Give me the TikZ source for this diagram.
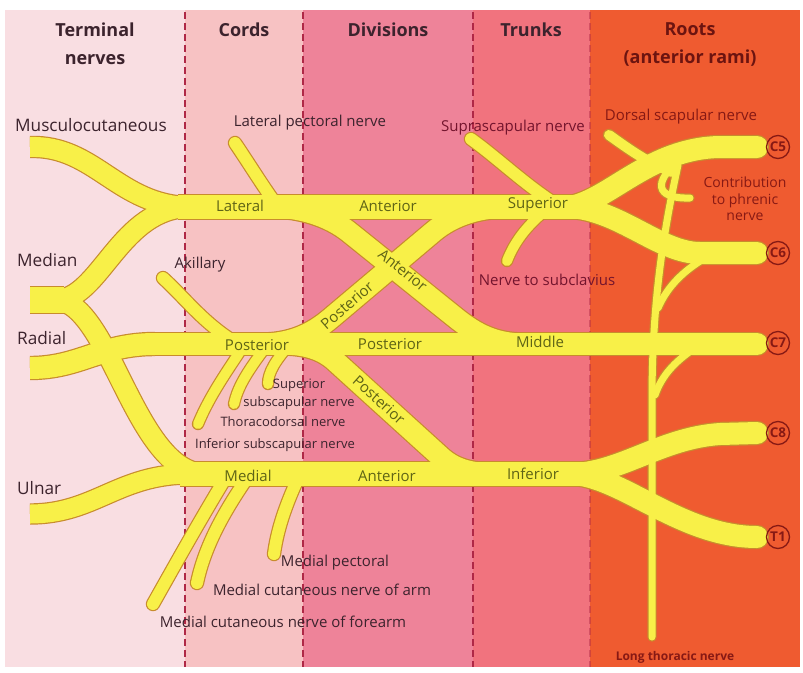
\documentclass[tikz,border=0pt]{standalone}
\usepackage{fontspec}
\setmainfont{Open Sans}
\definecolor{bgT}{RGB}{249,222,226}
\definecolor{bgC}{RGB}{247,194,195}
\definecolor{bgD}{RGB}{238,131,153}
\definecolor{bgK}{RGB}{241,115,126}
\definecolor{bgR}{RGB}{239,91,48}
\definecolor{nerve}{RGB}{248,240,72}
\definecolor{nedge}{RGB}{200,140,45}
\definecolor{olive}{RGB}{95,100,22}
\definecolor{dark}{RGB}{60,35,45}
\definecolor{maroon}{RGB}{115,20,45}
\definecolor{rootred}{RGB}{135,25,20}
\definecolor{dashc}{RGB}{175,40,70}
\def\ex{0pt}
\newcommand\nervepaths{%
  % lateral cord / anterior division / superior trunk
  \draw[nA] (178,207) -- (585,207);
  % musculocutaneous
  \draw[nT] (30,147) .. controls (95,145) and (118,206) .. (190,207);
  % median
  \draw[nM] (30,300) -- (64,300);
  \draw[nT] (56,300) .. controls (100,300) and (120,207) .. (190,207);
  \draw[nT] (56,300) .. controls (110,302) and (135,473) .. (205,474);
  % radial
  \draw[nB] (30,368) .. controls (80,368) and (100,344) .. (155,344);
  % posterior band
  \draw[nB] (150,344) -- (590,344);
  % ulnar
  \draw[nU] (30,514) .. controls (95,514) and (118,474) .. (190,474);
  % medial band
  \draw[nA] (180,474) -- (585,474);
  % anterior division of middle trunk
  \draw[nD] (270,207) .. controls (300,207) and (329,216) .. (349,232) -- (456,318) .. controls (476,334) and (495,344) .. (525,344);
  % posterior division of superior trunk
  \draw[nD] (510,207) .. controls (480,207) and (453,215) .. (433,232) -- (331,318) .. controls (311,335) and (290,344) .. (260,344);
  % posterior division of inferior trunk
  \draw[nD] (280,344) .. controls (300,344) and (319,347) .. (334,360) -- (442,458) .. controls (457,471) and (475,474) .. (500,474);
  % roots
  \draw[nR] (570,207) .. controls (610,200) and (650,148) .. (720,147) -- (757,147);
  \draw[nR] (570,207) .. controls (620,210) and (660,253) .. (700,253) -- (757,253);
  \draw[nR] (585,344) -- (757,344);
  \draw[nR] (570,474) .. controls (620,474) and (660,438) .. (720,434) -- (757,433);
  \draw[nR] (570,474) .. controls (620,474) and (680,537) .. (757,537);
  % lateral pectoral
  \draw[nS] (235,143) .. controls (248,162) and (262,185) .. (278,207);
  % axillary
  \draw[nS] (163,278) .. controls (185,298) and (205,325) .. (238,344);
  % subscapular / thoracodorsal
  \draw[nX] (245,344) .. controls (228,370) and (210,395) .. (198,424);
  \draw[nX] (268,344) .. controls (250,368) and (238,385) .. (234,404);
  \draw[nX] (290,344) .. controls (276,360) and (268,372) .. (268,384);
  % medial cord branches
  \draw[nS] (228,474) .. controls (200,520) and (175,565) .. (153,604);
  \draw[nS] (250,474) .. controls (225,510) and (205,545) .. (197,583);
  \draw[nS] (300,474) .. controls (288,500) and (278,525) .. (274,554);
  % suprascapular
  \draw[nS] (471,139) .. controls (500,160) and (525,185) .. (560,207);
  % nerve to subclavius
  \draw[nX] (507,261) .. controls (515,240) and (530,222) .. (550,207);
  % dorsal scapular
  \draw[nX] (609,135) .. controls (630,150) and (648,163) .. (672,172);
  % contribution to phrenic
  \draw[nL] (674,165) .. controls (652,186) and (660,199) .. (690,198);
  % long thoracic
  \draw[nL] (678,165) .. controls (664,230) and (652,300) .. (652,400) -- (652,637);
  \draw[nL] (705,258) .. controls (685,270) and (668,285) .. (658,308);
  \draw[nL] (692,350) .. controls (675,362) and (662,375) .. (655,395);
}
\begin{document}
\begin{tikzpicture}[x=1pt,y=-1pt,
  hdr/.style={font=\fontsize{18}{28}\selectfont\bfseries, align=center, inner sep=0pt},
  tname/.style={font=\fontsize{17.2}{19}\selectfont, text=dark, anchor=west, inner sep=0pt},
  lbl/.style={font=\fontsize{15}{17}\selectfont, inner sep=0pt},
  small/.style={font=\fontsize{13}{18}\selectfont, text=dark, align=center, inner sep=0pt},
  onn/.style={font=\fontsize{15}{17}\selectfont, text=olive, inner sep=0pt},
  root/.style={circle, draw=rootred, line width=1.3pt, minimum size=23pt, inner sep=0pt,
    font=\fontsize{13.5}{13.5}\selectfont\bfseries, text=rootred},
  sep/.style={dashc, line width=1.4pt, dash pattern=on 7pt off 4pt},
  nA/.style={line width=24pt+\ex},
  nT/.style={line width=20pt+\ex},
  nM/.style={line width=26pt+\ex},
  nB/.style={line width=22pt+\ex},
  nU/.style={line width=19pt+\ex},
  nD/.style={line width=21pt+\ex},
  nR/.style={line width=22pt+\ex, line cap=round},
  nS/.style={line width=12pt+\ex, line cap=round},
  nX/.style={line width=10pt+\ex, line cap=round},
  nL/.style={line width=7pt+\ex, line cap=round},
]
\useasboundingbox (0,0) rectangle (803,672);
\fill[white] (0,0) rectangle (803,672);
% column backgrounds
\fill[bgT] (5,10) rectangle (185,667);
\fill[bgC] (185,10) rectangle (303,667);
\fill[bgD] (303,10) rectangle (473,667);
\fill[bgK] (473,10) rectangle (590,667);
\fill[bgR] (590,10) rectangle (800,667);
\draw[sep] (185,12) -- (185,667);
\draw[sep] (303,12) -- (303,667);
\draw[sep] (473,12) -- (473,667);
\draw[sep, opacity=0.45] (590,12) -- (590,667);
% headers
\node[hdr, text=dark] (hT) at (95,44) {Terminal\\nerves};
\node[hdr, text=dark] (hC) at (244,30) {Cords};
\node[hdr, text=dark] (hD) at (388,30) {Divisions};
\node[hdr, text=dark] (hK) at (531,30) {Trunks};
\node[hdr, text=rootred!80!black] (hR) at (690,44) {Roots\\(anterior rami)};
% nerves: outline layer then fill layer
\begin{scope}[draw=nedge]
  \def\ex{2.4pt}
  \nervepaths
\end{scope}
\begin{scope}[draw=nerve]
  \def\ex{0pt}
  \nervepaths
\end{scope}
% root circles
\node[root] (c5) at (778,147) {C5};
\node[root] (c6) at (778,253) {C6};
\node[root] (c7) at (778,343) {C7};
\node[root] (c8) at (778,433) {C8};
\node[root] (t1) at (778,537) {T1};
% labels on nerves
\node[onn] (l1) at (240,206) {Lateral};
\node[onn] (l2) at (388,206) {Anterior};
\node[onn] (l3) at (538,205) {Superior};
\node[onn] (l4) at (257,345) {Posterior};
\node[onn] (l5) at (390,344) {Posterior};
\node[onn] (l6) at (540,342) {Middle};
\node[onn] (l7) at (248,476) {Medial};
\node[onn] (l8) at (387,476) {Anterior};
\node[onn] (l9) at (533,474) {Inferior};
\node[onn, rotate=-39] (l10) at (403,270) {Anterior};
\node[onn, rotate=41] (l11) at (347,305) {Posterior};
\node[onn, rotate=-42] (l12) at (379,400) {Posterior};
% terminal nerves
\node[tname] (musc) at (15,125) {Musculocutaneous};
\node[tname] (med) at (17,260) {Median};
\node[tname] (rad) at (17,338) {Radial};
\node[tname] (uln) at (17,488) {Ulnar};
% branch labels
\node[lbl, text=dark] (latp) at (310,123) {Lateral pectoral nerve};
\node[lbl, text=dark] (axl) at (200,265) {Akillary};
\node[small] (supsub) at (299,394) {Superior\\subscapular nerve};
\node[small] (thor) at (283,422) {Thoracodorsal nerve};
\node[small] (infsub) at (275,445) {Inferior subscapular nerve};
\node[lbl, text=dark] (medp) at (335,563) {Medial pectoral};
\node[lbl, text=dark] (mcna) at (322,590) {Medial cutaneous nerve of arm};
\node[lbl, text=dark] (mcnf) at (283,622) {Medial cutaneous nerve of forearm};
\node[lbl, text=maroon] (supra) at (513,128) {Suprascapular nerve};
\node[lbl, text=maroon] (subcl) at (547,280) {Nerve to subclavius};
\node[lbl, text=rootred] (dors) at (681,117) {Dorsal scapular nerve};
\node[lbl, text=rootred, align=center, font=\fontsize{14}{16.5}\selectfont] (phr) at (745,199) {Contribution\\to phrenic\\nerve};
\node[lbl, text=rootred, font=\fontsize{12}{14}\selectfont\bfseries] (lth) at (675,657) {Long thoracic nerve};
\end{tikzpicture}
\end{document}
